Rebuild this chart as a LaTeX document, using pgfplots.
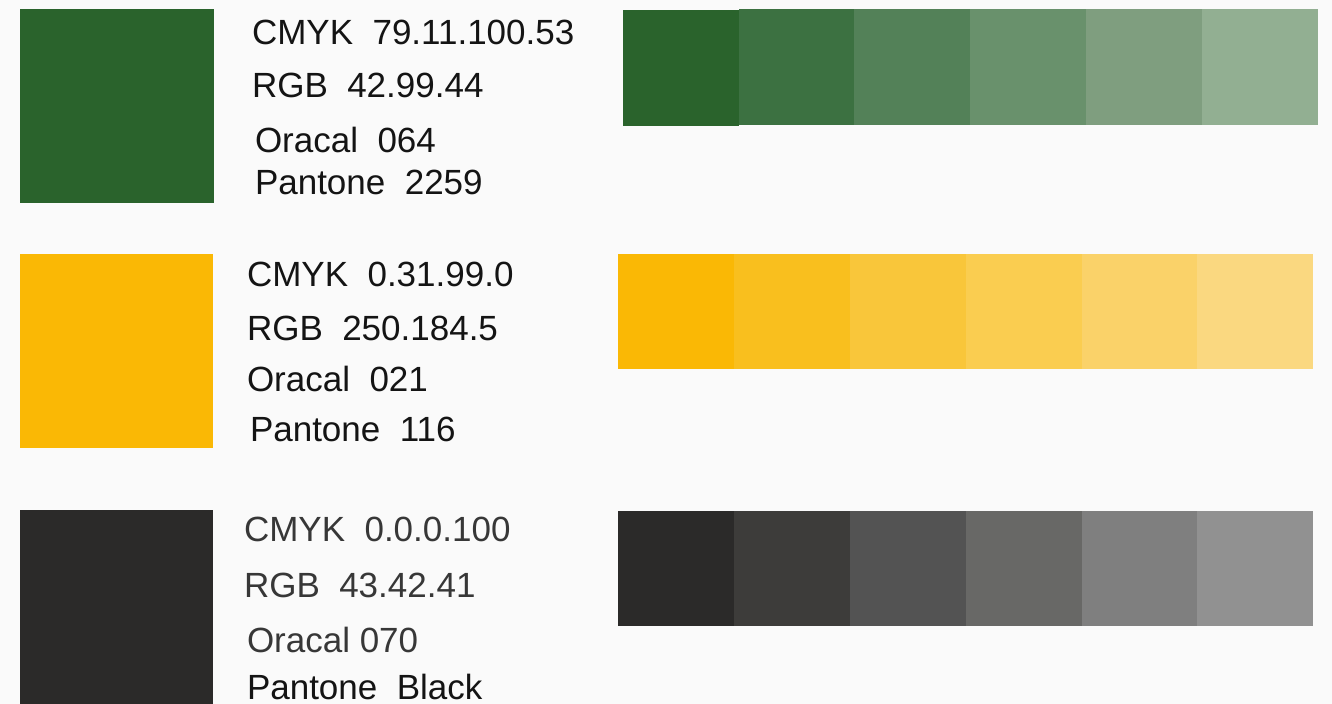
\documentclass[border=0pt]{standalone}
\usepackage{pgfplots}
\pgfplotsset{compat=1.18}
\usepackage{fontspec}
\setmainfont{Liberation Sans}

% background and swatch colours (RGB)
\definecolor{bg}{RGB}{250,250,250}
\definecolor{gA}{RGB}{42,99,44}
\definecolor{gB}{RGB}{60,113,65}
\definecolor{gC}{RGB}{83,129,88}
\definecolor{gD}{RGB}{105,145,108}
\definecolor{gE}{RGB}{127,158,127}
\definecolor{gF}{RGB}{146,175,146}
\definecolor{yA}{RGB}{250,184,5}
\definecolor{yB}{RGB}{249,191,30}
\definecolor{yC}{RGB}{249,198,58}
\definecolor{yD}{RGB}{250,205,80}
\definecolor{yE}{RGB}{250,210,105}
\definecolor{yF}{RGB}{250,216,128}
\definecolor{kA}{RGB}{43,42,41}
\definecolor{kB}{RGB}{61,60,58}
\definecolor{kC}{RGB}{83,83,83}
\definecolor{kD}{RGB}{104,104,102}
\definecolor{kE}{RGB}{127,127,127}
\definecolor{kF}{RGB}{145,145,145}
\definecolor{txt}{RGB}{20,20,20}
\definecolor{txtgray}{RGB}{55,55,55}

\tikzset{lbl/.style={inner sep=0pt, outer sep=0pt, anchor=base west,
    font=\fontsize{17.5}{20}\selectfont}}

% one filled rectangle: x1, y1, x2, y2, colour
\newcommand{\swatch}[5]{%
  \addplot[fill=#5, draw=none] coordinates {(#1,#2) (#3,#2) (#3,#4) (#1,#4)};}

\begin{document}
\begin{tikzpicture}
\begin{axis}[
    scale only axis,
    width=666pt, height=352pt,
    xmin=0, xmax=1332, ymin=0, ymax=704,
    y dir=reverse,
    hide axis,
    clip=false,
  ]
  \swatch{0}{0}{1332}{704}{bg}

  % big squares
  \swatch{20}{9}{214}{203}{gA}
  \swatch{20}{254}{213}{448}{yA}
  \swatch{20}{510}{213}{704}{kA}

  % green strip
  \swatch{623}{10}{739}{126}{gA}
  \swatch{739}{9}{854}{125}{gB}
  \swatch{854}{9}{970}{125}{gC}
  \swatch{970}{9}{1086}{125}{gD}
  \swatch{1086}{9}{1202}{125}{gE}
  \swatch{1202}{9}{1318}{125}{gF}

  % yellow strip
  \swatch{618}{254}{734}{369}{yA}
  \swatch{734}{254}{850}{369}{yB}
  \swatch{850}{254}{966}{369}{yC}
  \swatch{966}{254}{1082}{369}{yD}
  \swatch{1082}{254}{1197}{369}{yE}
  \swatch{1197}{254}{1313}{369}{yF}

  % grey strip
  \swatch{618}{511}{734}{626}{kA}
  \swatch{734}{511}{850}{626}{kB}
  \swatch{850}{511}{966}{626}{kC}
  \swatch{966}{511}{1082}{626}{kD}
  \swatch{1082}{511}{1197}{626}{kE}
  \swatch{1197}{511}{1313}{626}{kF}

  % labels
  \node[lbl, text=txt] at (axis cs:252,45) {CMYK\ \ 79.11.100.53};
  \node[lbl, text=txt] at (axis cs:252,98) {RGB\ \ 42.99.44};
  \node[lbl, text=txt] at (axis cs:255,153) {Oracal\ \ 064};
  \node[lbl, text=txt] at (axis cs:255,195) {Pantone\ \ 2259};

  \node[lbl, text=txt] at (axis cs:247,287) {CMYK\ \ 0.31.99.0};
  \node[lbl, text=txt] at (axis cs:247,341) {RGB\ \ 250.184.5};
  \node[lbl, text=txt] at (axis cs:247,392) {Oracal\ \ 021};
  \node[lbl, text=txt] at (axis cs:250,442) {Pantone\ \ 116};

  \node[lbl, text=txtgray] at (axis cs:244,542) {CMYK\ \ 0.0.0.100};
  \node[lbl, text=txtgray] at (axis cs:244,597) {RGB\ \ 43.42.41};
  \node[lbl, text=txtgray] at (axis cs:247,653) {Oracal 070};
  \node[lbl, text=txt] at (axis cs:247,699) {Pantone\ \ Black};
\end{axis}
\end{tikzpicture}
\end{document}
